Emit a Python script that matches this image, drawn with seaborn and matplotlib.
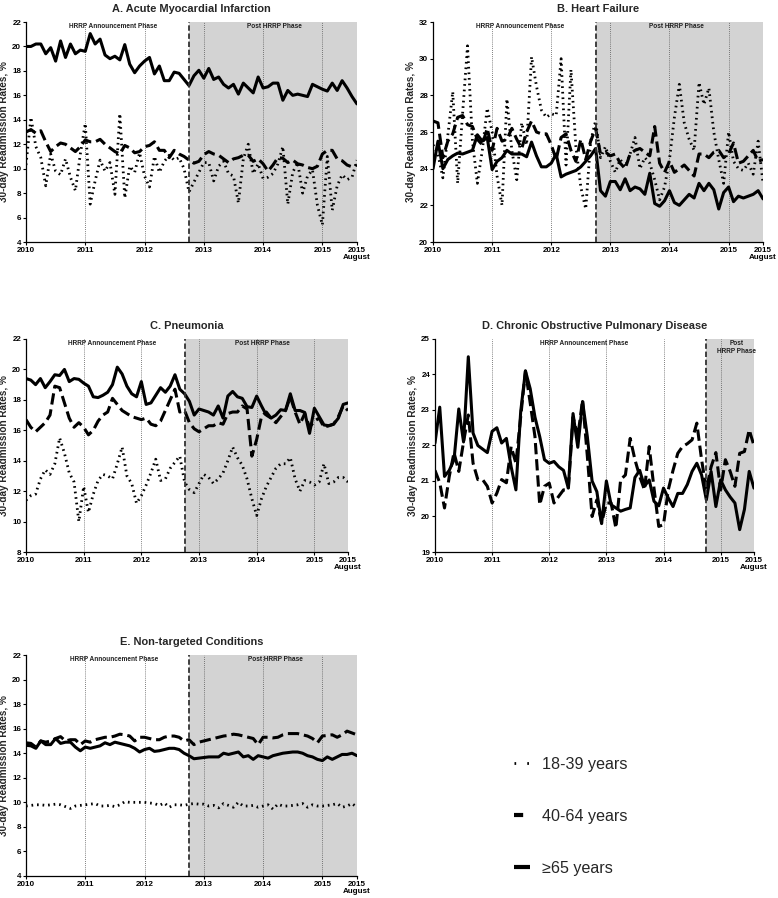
import numpy as np
import pandas as pd
import matplotlib
matplotlib.use("Agg")
import matplotlib.pyplot as plt
import matplotlib.transforms as mtransforms
from matplotlib.lines import Line2D
import seaborn as sns

sns.set_style("white")
plt.rcParams['font.family'] = ['Liberation Sans', 'DejaVu Sans']

# ---------------- data (monthly, Jan 2010 .. Aug 2015) ----------------
months = list(range(68))
xtick_pos = [0, 12, 24, 36, 48, 60, 67]
xtick_labels = ["2010", "2011", "2012", "2013", "2014", "2015", "2015\nAugust"]
age_groups = ["18-39 years", "40-64 years", "\u226565 years"]

ami_18_39 = [10.3, 14.2, 11.8, 10.9, 8.6, 11.2, 9.8, 9.5, 10.8, 9.3, 8.2, 11.2, 13.7, 7.1, 9.0, 10.7,
             9.8, 10.5, 7.9, 14.5, 7.6, 10.2, 9.7, 11.3, 9.4, 8.5, 11.0, 9.7, 10.6, 11.1, 10.7, 10.9,
             10.0, 8.1, 8.9, 9.7, 10.5, 10.5, 9.0, 10.2, 10.6, 9.6, 9.4, 7.2, 10.8, 12.0, 9.6, 10.4,
             9.2, 9.3, 9.6, 10.4, 11.8, 7.1, 9.7, 10.5, 8.0, 9.4, 9.9, 7.0, 5.4, 11.0, 6.6, 8.6,
             9.5, 9.1, 9.3, 10.7]
ami_40_64 = [13.0, 13.2, 12.9, 13.1, 12.2, 11.4, 11.8, 12.1, 12.0, 11.7, 11.4, 11.8, 12.35, 12.2, 12.2,
             12.4, 12.0, 11.7, 11.4, 11.2, 11.9, 11.7, 11.3, 11.4, 11.8, 11.9, 12.2, 11.5, 11.5, 10.9,
             11.5, 11.2, 11.0, 10.7, 10.45, 10.6, 11.15, 11.4, 11.2, 11.1, 10.8, 10.5, 10.8, 10.9, 11.1,
             11.1, 10.6, 10.8, 10.4, 9.8, 10.3, 10.9, 10.85, 10.5, 10.7, 10.4, 10.3, 10.1, 10.0, 10.2,
             11.2, 11.5, 11.5, 10.8, 10.65, 10.3, 10.15, 10.3]
ami_65 = [20.0, 20.0, 20.2, 20.2, 19.4, 19.9, 18.8, 20.45, 19.1, 20.2, 19.4, 19.7, 19.6, 21.05, 20.2,
          20.6, 19.3, 19.0, 19.2, 18.9, 20.15, 18.55, 17.85, 18.4, 18.8, 19.1, 17.75, 18.4, 17.2, 17.2,
          17.9, 17.8, 17.3, 16.8, 17.6, 18.05, 17.4, 18.2, 17.3, 17.5, 16.9, 16.6, 16.9, 16.1, 17.0,
          16.6, 16.2, 17.5, 16.6, 16.7, 17.0, 17.0, 15.6, 16.4, 16.0, 16.1, 16.0, 15.9, 16.9, 16.7,
          16.5, 16.35, 17.0, 16.4, 17.2, 16.6, 15.9, 15.3]

hf_18_39 = [25.3, 24.8, 23.5, 25.8, 28.2, 23.2, 27.0, 30.7, 25.5, 23.2, 25.0, 27.3, 26.0, 23.6, 22.0,
            27.8, 25.0, 23.4, 26.5, 25.3, 30.1, 28.5, 27.2, 26.8, 27.0, 26.9, 30.0, 24.2, 29.4, 25.2,
            23.0, 21.8, 25.5, 26.6, 24.6, 25.2, 24.4, 23.8, 24.5, 24.1, 24.8, 25.7, 24.0, 24.6, 24.3,
            23.4, 22.3, 23.0, 24.5, 26.8, 28.6, 26.5, 25.6, 25.0, 28.7, 27.5, 28.4, 26.0, 24.5, 23.2,
            26.0, 24.4, 24.0, 23.9, 24.3, 23.7, 25.5, 23.2]
hf_40_64 = [26.6, 26.5, 24.6, 25.5, 25.9, 26.8, 26.9, 26.4, 26.3, 25.6, 25.3, 26.2, 25.0, 26.2, 25.5,
            25.6, 26.2, 25.6, 25.1, 26.0, 26.6, 26.0, 25.9, 25.9, 25.3, 24.5, 25.7, 25.9, 25.0, 24.4,
            25.6, 24.5, 25.5, 26.2, 24.8, 24.9, 24.7, 24.8, 24.3, 24.0, 24.8, 25.0, 25.1, 24.9, 24.7,
            26.3, 24.3, 23.8, 24.4, 23.8, 24.0, 24.2, 23.9, 23.6, 24.8, 24.8, 24.6, 24.9, 25.0, 24.6,
            24.8, 25.4, 24.3, 24.4, 24.7, 25.0, 24.4, 24.5]
hf_65 = [24.0, 25.5, 24.0, 24.5, 24.7, 24.85, 24.8, 24.9, 25.0, 25.85, 25.5, 25.7, 23.95, 24.4, 24.6,
         25.0, 24.8, 24.8, 24.8, 24.65, 25.45, 24.7, 24.1, 24.1, 24.3, 24.8, 23.55, 23.7, 23.8, 23.9,
         24.1, 24.4, 24.7, 25.1, 22.8, 22.5, 23.3, 23.3, 22.85, 23.45, 22.8, 23.0, 22.9, 22.6, 23.75,
         22.1, 21.95, 22.25, 22.8, 22.15, 22.0, 22.3, 22.6, 22.4, 23.2, 22.8, 23.2, 22.85, 21.8, 22.7,
         23.0, 22.2, 22.5, 22.4, 22.5, 22.6, 22.8, 22.35]

pn_18_39 = [11.4, 11.7, 11.8, 12.8, 13.4, 13.1, 13.8, 15.5, 14.5, 13.2, 12.6, 10.0, 12.3, 10.6, 11.8,
            12.7, 13.1, 13.0, 12.8, 13.8, 14.9, 13.0, 12.5, 11.2, 11.7, 12.4, 13.2, 14.1, 12.7, 12.8,
            13.5, 13.9, 14.3, 12.6, 12.1, 11.9, 12.5, 13.1, 12.9, 12.5, 12.8, 13.2, 14.0, 14.9, 14.2,
            13.7, 12.8, 11.5, 10.4, 11.5, 12.3, 12.9, 13.5, 13.8, 13.8, 14.2, 12.8, 12.0, 12.7, 12.6,
            12.4, 12.6, 13.8, 12.5, 12.6, 12.9, 12.9, 12.6]
pn_40_64 = [16.7, 16.2, 15.9, 16.2, 16.5, 17.0, 18.9, 18.8, 17.8, 16.8, 16.2, 16.5, 16.2, 15.7, 16.0,
            16.6, 17.0, 17.2, 18.1, 17.7, 17.3, 17.1, 16.9, 16.8, 16.7, 16.8, 16.4, 16.3, 16.6, 17.3,
            18.0, 18.7, 17.2, 17.3, 16.5, 16.1, 15.9, 16.1, 16.3, 16.3, 16.5, 16.4, 17.1, 17.2, 17.2,
            17.6, 17.4, 14.3, 15.4, 16.9, 17.2, 16.8, 16.5, 16.9, 17.3, 18.2, 17.2, 16.4, 17.1, 16.2,
            16.6, 16.8, 16.2, 16.3, 16.4, 16.9, 17.6, 17.3]
pn_65 = [19.4, 19.3, 19.0, 19.4, 18.8, 19.2, 19.65, 19.6, 20.0, 19.2, 19.4, 19.35, 19.1, 18.9, 18.2,
         18.15, 18.3, 18.5, 19.0, 20.15, 19.7, 18.9, 18.4, 18.2, 19.2, 17.7, 17.8, 18.3, 18.8, 18.5,
         18.9, 19.65, 18.7, 18.4, 17.9, 17.0, 17.4, 17.3, 17.2, 17.0, 17.6, 16.8, 18.25, 18.55, 18.2,
         18.1, 17.55, 17.5, 18.25, 17.6, 17.0, 16.8, 17.0, 17.35, 17.3, 18.4, 17.3, 17.3, 17.17, 15.8,
         17.45, 16.9, 16.35, 16.3, 16.4, 16.8, 17.7, 17.8]

copd_40_64 = [21.3, 20.95, 20.24, 21.13, 21.8, 21.27, 22.1, 22.86, 21.5, 21.04, 21.04, 20.85, 20.38,
              20.66, 21.04, 20.95, 21.97, 21.5, 22.8, 24.1, 23.2, 22.25, 20.33, 20.85, 20.94, 20.38,
              20.57, 20.75, 20.75, 22.8, 22.25, 23.28, 21.7, 20.0, 20.47, 19.82, 20.38, 20.38, 19.67,
              21.04, 21.17, 22.2, 21.6, 21.13, 20.75, 21.97, 20.8, 19.72, 19.77, 20.75, 21.3, 21.78,
              21.97, 22.05, 22.16, 22.63, 21.6, 20.75, 21.4, 21.8, 20.75, 21.6, 21.27, 20.85, 21.78,
              21.83, 22.44, 22.0]
copd_65 = [22.07, 23.08, 21.13, 21.3, 21.6, 23.03, 22.1, 24.5, 22.35, 22.0, 21.9, 21.8, 22.4, 22.5,
           22.07, 22.2, 21.4, 20.75, 22.95, 24.1, 23.6, 22.8, 22.25, 21.6, 21.5, 21.55, 21.4, 21.3,
           20.8, 22.9, 21.95, 23.24, 22.25, 21.0, 20.7, 19.8, 21.0, 20.33, 20.24, 20.15, 20.2, 20.24,
           21.1, 21.3, 20.85, 21.03, 20.43, 20.3, 20.8, 20.52, 20.28, 20.65, 20.65, 20.9, 21.27, 21.5,
           21.17, 20.47, 21.27, 20.28, 21.03, 20.75, 20.55, 20.38, 19.63, 20.2, 21.27, 20.8]

ntc_18_39 = [9.7, 9.75, 9.8, 9.8, 9.75, 9.8, 9.85, 9.8, 9.65, 9.5, 9.7, 9.75, 9.8, 9.85, 9.9, 9.7,
             9.7, 9.75, 9.65, 9.8, 10.05, 10.0, 10.0, 10.0, 10.0, 9.95, 9.9, 9.75, 9.95, 9.6, 9.8,
             9.8, 9.75, 9.85, 9.9, 9.85, 9.85, 9.7, 9.75, 9.55, 9.9, 9.75, 9.6, 10.0, 9.7, 9.7, 9.75,
             9.6, 9.7, 9.8, 9.45, 9.85, 9.7, 9.7, 9.75, 9.8, 9.9, 9.6, 9.8, 9.7, 9.7, 9.75, 9.8, 9.9,
             9.6, 9.7, 9.9, 9.6]
ntc_40_64 = [14.85, 14.8, 14.5, 15.0, 14.9, 15.0, 15.2, 15.35, 15.0, 15.1, 15.1, 14.7, 15.0, 14.9,
             15.1, 15.2, 15.3, 15.3, 15.4, 15.55, 15.5, 15.4, 15.0, 15.3, 15.3, 15.2, 15.1, 15.1, 15.3,
             15.4, 15.4, 15.3, 15.0, 15.1, 14.7, 14.9, 15.0, 15.1, 15.2, 15.3, 15.4, 15.45, 15.55, 15.5,
             15.4, 15.3, 15.2, 14.7, 15.3, 15.3, 15.25, 15.3, 15.5, 15.6, 15.6, 15.6, 15.5, 15.4, 15.2,
             14.85, 15.4, 15.45, 15.5, 15.3, 15.5, 15.8, 15.65, 15.5]
ntc_65 = [14.65, 14.6, 14.4, 15.0, 14.7, 14.7, 15.2, 14.8, 14.9, 14.9, 14.5, 14.2, 14.5, 14.4, 14.5,
          14.6, 14.85, 14.7, 14.9, 14.8, 14.7, 14.6, 14.4, 14.1, 14.3, 14.4, 14.15, 14.2, 14.3, 14.4,
          14.4, 14.3, 14.0, 13.8, 13.55, 13.6, 13.65, 13.7, 13.7, 13.7, 14.0, 13.9, 14.0, 14.1, 13.7,
          13.8, 13.5, 13.8, 13.7, 13.6, 13.8, 13.9, 14.0, 14.05, 14.1, 14.1, 14.0, 13.8, 13.7, 13.5,
          13.4, 13.7, 13.5, 13.7, 13.9, 13.9, 14.0, 13.8]

# ---------------- figure ----------------
fig = plt.figure(figsize=(7.78, 8.98), dpi=100)

panels = [
    dict(title="A. Acute Myocardial Infarction", rect=[0.0334, 0.7305, 0.4254, 0.245],
         series=[ami_18_39, ami_40_64, ami_65], ylim=(4, 22), ystep=2, post=33,
         pre_x=17.7, post_x=50.2, post_label="Post HRRP Phase"),
    dict(title="B. Heart Failure", rect=[0.5566, 0.7305, 0.4242, 0.245],
         series=[hf_18_39, hf_40_64, hf_65], ylim=(20, 32), ystep=2, post=33,
         pre_x=17.7, post_x=49.5, post_label="Post HRRP Phase"),
    dict(title="C. Pneumonia", rect=[0.0334, 0.3853, 0.4139, 0.2372],
         series=[pn_18_39, pn_40_64, pn_65], ylim=(8, 22), ystep=2, post=33,
         pre_x=18.0, post_x=49.3, post_label="Post HRRP Phase"),
    dict(title="D. Chronic Obstructive Pulmonary Disease", rect=[0.5591, 0.3853, 0.41, 0.2372],
         series=[None, copd_40_64, copd_65], ylim=(19, 25), ystep=1, post=57,
         pre_x=31.3, post_x=63.3, post_label="Post\nHRRP Phase"),
    dict(title="E. Non-targeted Conditions", rect=[0.0334, 0.0245, 0.4254, 0.2461],
         series=[ntc_18_39, ntc_40_64, ntc_65], ylim=(4, 22), ystep=2, post=33,
         pre_x=17.8, post_x=50.4, post_label="Post HRRP Phase"),
]

styles = [dict(lw=2.0, linestyle=(0, (0.6, 1.4)), dash_capstyle="butt"),
          dict(lw=2.2, linestyle=(0, (3.7, 1.6))),
          dict(lw=2.2, linestyle="-")]

for p in panels:
    ax = fig.add_axes(p["rect"])
    ax.set_xlim(0, 67)
    ax.set_ylim(*p["ylim"])
    ax.axvspan(p["post"], 67, color="#d3d3d3", lw=0, zorder=0)
    for xv in [12, 24, 36, 48, 60, 67]:
        ax.axvline(xv, color="#555555", lw=0.6, linestyle=(0, (1, 1.5)), zorder=1)
    for vals, st in zip(p["series"], styles):
        if vals is None:
            continue
        df = pd.DataFrame({"month": months, "rate": vals})
        sns.lineplot(data=df, x="month", y="rate", ax=ax, color="black",
                     lw=st["lw"], linestyle=st["linestyle"], zorder=3,
                     **({"dash_capstyle": st["dash_capstyle"]} if "dash_capstyle" in st else {}))
    ax.axvline(p["post"], color="#333333", lw=1.3, linestyle=(0, (3, 1.5)), zorder=4)

    trans = mtransforms.blended_transform_factory(ax.transData, ax.transAxes)
    ax.text(p["pre_x"], 0.995, "HRRP Announcement Phase", transform=trans, ha="center", va="top",
            fontsize=4.7, fontweight="bold", color="#222222", zorder=5)
    ax.text(p["post_x"], 0.995, p["post_label"], transform=trans, ha="center", va="top",
            fontsize=4.7, fontweight="bold", color="#222222", zorder=5, linespacing=1.1)

    lo, hi = p["ylim"]
    ax.set_yticks(np.arange(lo, hi + 0.01, p["ystep"]))
    ax.set_xticks(xtick_pos)
    ax.set_xticklabels(xtick_labels)
    ax.tick_params(axis="both", labelsize=5.8, length=2.5, width=0.8, pad=1, direction="out",
                   left=True, bottom=True, colors="black")
    for lab in ax.get_xticklabels() + ax.get_yticklabels():
        lab.set_fontweight("bold")
    for lab in ax.get_xticklabels():
        lab.set_linespacing(1.05)
    ax.set_xlabel("")
    ax.set_ylabel("30-day Readmission Rates, %", fontsize=7.2, fontweight="bold", labelpad=2)
    ax.set_title(p["title"], fontsize=7.9, fontweight="bold", pad=7.5)
    for side in ["top", "right"]:
        ax.spines[side].set_visible(False)
    for side in ["left", "bottom"]:
        ax.spines[side].set_color("black")
        ax.spines[side].set_linewidth(0.9)
    ax.grid(False)

handles = [Line2D([], [], color="black", lw=2.0, linestyle=(0, (0.6, 4.0)), dash_capstyle="butt"),
           Line2D([], [], color="black", lw=3.0, linestyle=(0, (2.2, 20)), dash_capstyle="butt"),
           Line2D([], [], color="black", lw=3.0, linestyle="-", solid_capstyle="butt")]
fig.legend(handles, age_groups, loc="center left", bbox_to_anchor=(0.646, 0.091),
           frameon=False, fontsize=11.6, labelspacing=2.3, handlelength=1.0, handletextpad=0.75,
           borderpad=0.2)

fig.savefig("out.png", dpi=100)
